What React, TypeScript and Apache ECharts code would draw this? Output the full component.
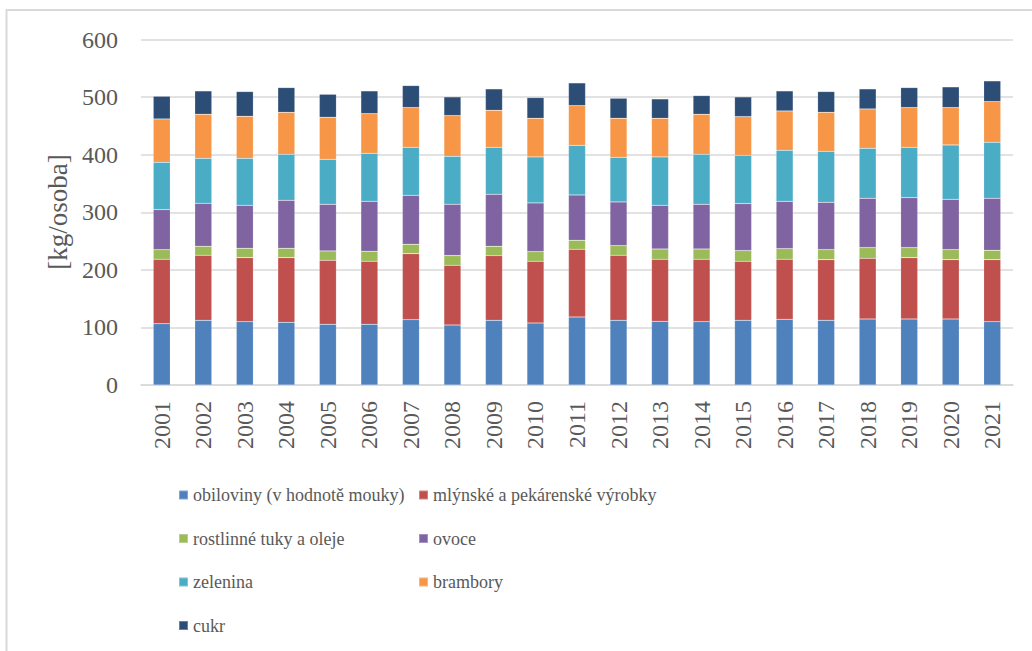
import React, { useEffect, useRef } from "react";
import * as echarts from "echarts";

const years = ["2001","2002","2003","2004","2005","2006","2007","2008","2009","2010","2011","2012","2013","2014","2015","2016","2017","2018","2019","2020","2021"];

const obiloviny = [106.5,112.3,110,108.9,105.4,105.4,113.5,104.2,112.3,107.7,118.1,112.3,110.6,110,112.3,114.1,112.3,114.6,114.6,114.6,110];
const mlynske = [111.8,112.9,111.2,112.3,111.2,109.4,114.6,103.7,112.4,107.1,117.6,112.9,107.7,108.3,102.5,104.2,105.4,105.4,106.6,103.1,107.7];
const tuky = [16.7,15.7,16.2,16.2,16.2,17.4,16.3,16.8,16.2,16.8,15.6,16.8,17.9,17.9,18.6,18.5,17.4,18.6,17.4,17.4,16.2];
const ovoce = [69.6,74.7,74.7,83.4,81,86.8,85.1,89.1,90.3,84.6,78.7,75.9,75.9,77.6,81.6,82.2,82.2,85.7,86.8,87.4,90.4];
const zelenina = [82.2,78.1,81.6,79.9,78.2,83.4,83.4,83.4,81.7,79.9,86.3,77.6,84,86.9,84,88.6,88.6,86.8,87.5,94.4,97.2];
const brambory = [75.2,76.5,73,72.9,73,68.9,68.9,70.7,64.2,67.1,68.9,67.7,67.1,69.5,67.1,68.3,67.7,68.3,68.9,64.9,70.7];
const cukr = [39.4,40.5,42.9,42.9,39.9,39.4,38.2,32.4,37.1,35.9,39.4,34.8,33.6,32.4,34.2,34.8,36,34.8,34.7,35.9,35.9];

const seriesNames = [
  "obiloviny (v hodnotě mouky)",
  "mlýnské a pekárenské výrobky",
  "rostlinné tuky a oleje",
  "ovoce",
  "zelenina",
  "brambory",
  "cukr",
];
const seriesData = [obiloviny, mlynske, tuky, ovoce, zelenina, brambory, cukr];
const colors = ["#4F81BD", "#C0504D", "#9BBB59", "#8064A2", "#4BACC6", "#F79646", "#2C4D75"];

const yTicks = [0, 100, 200, 300, 400, 500, 600];
const yAxisName = "[kg/osoba]";

const FONT = "'Liberation Serif', serif";
const TEXT = "#595959";

export default function App() {
  const ref = useRef<HTMLDivElement>(null);
  useEffect(() => {
    if (!ref.current) return;
    const chart = echarts.init(ref.current, null, { renderer: "svg" });
    const legendCommon = {
      orient: "vertical" as const,
      top: 485,
      padding: 0,
      itemWidth: 9,
      itemHeight: 9,
      itemGap: 23.5,
      icon: "rect",
      textStyle: { fontFamily: FONT, fontSize: 18, color: TEXT, lineHeight: 20 },
    };
    chart.setOption({
      animation: false,
      backgroundColor: "#ffffff",
      color: colors,
      textStyle: { fontFamily: FONT },
      graphic: [
        {
          type: "rect",
          shape: { x: 6.5, y: 10, width: 1100, height: 700 },
          style: { fill: "none", stroke: "#D9D9D9", lineWidth: 2 },
          silent: true,
        },
        {
          type: "text",
          x: 58,
          y: 212,
          rotation: Math.PI / 2,
          style: {
            text: yAxisName,
            fontFamily: FONT,
            fontSize: 27,
            fill: TEXT,
            align: "center",
            verticalAlign: "middle",
          },
          silent: true,
        },
      ],
      legend: [
        { ...legendCommon, left: 178, data: [seriesNames[0], seriesNames[2], seriesNames[4], seriesNames[6]] },
        { ...legendCommon, left: 418, data: [seriesNames[1], seriesNames[3], seriesNames[5]] },
      ],
      grid: { left: 141, right: 19, top: 39.5, bottom: 266, containLabel: false },
      xAxis: {
        type: "category",
        data: years,
        axisLine: { show: true, lineStyle: { color: "#D9D9D9", width: 1.5 } },
        axisTick: { show: false },
        axisLabel: { rotate: 90, margin: 16, fontFamily: FONT, fontSize: 24, color: TEXT },
      },
      yAxis: {
        type: "value",
        min: yTicks[0],
        max: yTicks[yTicks.length - 1],
        interval: 100,
        axisLine: { show: false },
        axisTick: { show: false },
        axisLabel: { margin: 23, fontFamily: FONT, fontSize: 24, color: TEXT },
        splitLine: { lineStyle: { color: "#D9D9D9", width: 1.5 } },
      },
      series: seriesNames.map((name, i) => ({
        name,
        type: "bar",
        stack: "total",
        barWidth: 17,
        data: seriesData[i],
        itemStyle: { color: colors[i], borderColor: "rgba(255,255,255,0.3)", borderWidth: 0.5 },
      })),
    });
    return () => chart.dispose();
  }, []);
  return <div ref={ref} style={{ position: "fixed", left: 0, top: 0, width: 1032, height: 651 }} />;
}
